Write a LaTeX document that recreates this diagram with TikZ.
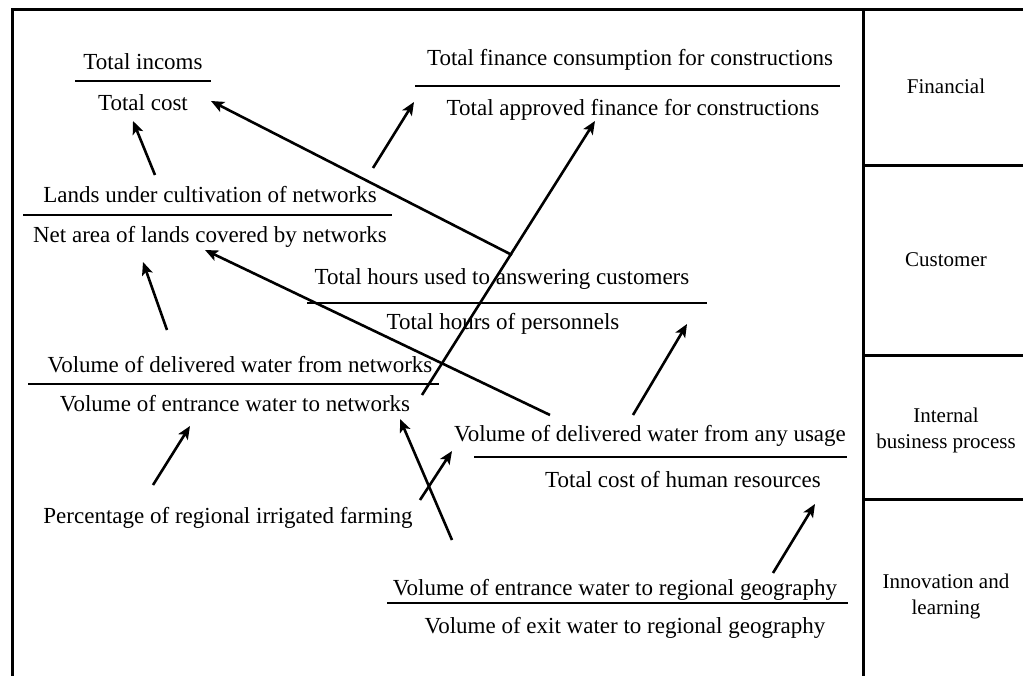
\documentclass[tikz,border=0pt]{standalone}
\usepackage{fontspec}
\setmainfont{Liberation Serif}
\usetikzlibrary{arrows.meta}
\begin{document}
\begin{tikzpicture}[x=1pt,y=-1pt,
  frame/.style={line width=3pt},
  bar/.style={line width=2.6pt},
  arr/.style={line width=2.6pt,-{Stealth[length=13pt,width=11pt,inset=3pt]}},
  txt/.style={inner sep=0pt,anchor=base,font=\fontsize{23}{27}\selectfont},
  cat/.style={inner sep=0pt,align=center,font=\fontsize{21}{26}\selectfont}]
\useasboundingbox (0,0) rectangle (1023,676);
% frame
\draw[frame] (12,676) -- (12,10) -- (1023,10);
\draw[frame] (863,10) -- (863,676);
\draw[frame] (863,166) -- (1023,166);
\draw[frame] (863,356) -- (1023,356);
\draw[frame] (863,499) -- (1023,499);
% category labels
\node[cat] (fin) at (946,86) {Financial};
\node[cat] (cus) at (946,260) {Customer};
\node[cat] (ibp) at (946,430) {Internal\\business process};
\node[cat] (inl) at (946,596) {Innovation and\\learning};
% ratios
\node[txt] (tinc) at (143,70) {Total incoms};
\draw[bar] (75,81) -- (211,81);
\node[txt] (tcost) at (143,111) {Total cost};
\node[txt] (tfc) at (630,66) {Total finance consumption for constructions};
\draw[bar] (415,86) -- (840,86);
\node[txt] (taf) at (633,116) {Total approved finance for constructions};
\node[txt] (lands) at (210,203) {Lands under cultivation of networks};
\draw[bar] (23,215) -- (392,215);
\node[txt] (net) at (210,243) {Net area of lands covered by networks};
\node[txt] (thu) at (502,285) {Total hours used to answering customers};
\draw[bar] (307,303) -- (707,303);
\node[txt] (thp) at (503,330) {Total hours of personnels};
\node[txt] (vdn) at (240,373) {Volume of delivered water from networks};
\draw[bar] (28,384) -- (439,384);
\node[txt] (ven) at (235,411) {Volume of entrance water to networks};
\node[txt] (vdu) at (650,441) {Volume of delivered water from any usage};
\draw[bar] (474,457) -- (847,457);
\node[txt] (tch) at (683,487) {Total cost of human resources};
\node[txt] (pct) at (228,523) {Percentage of regional irrigated farming};
\node[txt] (ver) at (615,595) {Volume of entrance water to regional geography};
\draw[bar] (387,603) -- (848,603);
\node[txt] (vxr) at (625,633) {Volume of exit water to regional geography};
% arrow end points
\coordinate (a1t) at (155,175); \coordinate (a1h) at (133,121);
\coordinate (a2t) at (373,168); \coordinate (a2h) at (414,102);
\coordinate (a3t) at (512,255); \coordinate (a3h) at (211,101);
\coordinate (a4t) at (422,395); \coordinate (a4h) at (595,121);
\coordinate (a5t) at (550,415); \coordinate (a5h) at (205,250);
\coordinate (a6t) at (167,330); \coordinate (a6h) at (143,262);
\coordinate (a7t) at (633,415); \coordinate (a7h) at (687,324);
\coordinate (a8t) at (153,485); \coordinate (a8h) at (190,426);
\coordinate (a9t) at (420,500); \coordinate (a9h) at (452,451);
\coordinate (a10t) at (452,540); \coordinate (a10h) at (400,419);
\coordinate (a11t) at (773,573); \coordinate (a11h) at (815,504);
\foreach \i in {1,...,11} \draw[arr] (a\i t) -- (a\i h);
\end{tikzpicture}
\end{document}
